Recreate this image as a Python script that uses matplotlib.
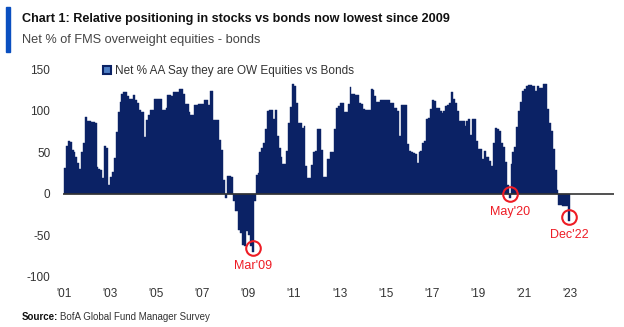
import matplotlib
matplotlib.use("Agg")
import numpy as np
import matplotlib.pyplot as plt
from matplotlib import font_manager
from matplotlib.patches import Rectangle

# monthly net % of fund managers overweight equities vs bonds, Jan 2001 .. Dec 2022
first_year = 2001
net_ow_pct = [
    31, 58, 64, 63, 53, 50, 45, 37, 30, 51, 62, 93,          # 2001
    88, 88, 87, 87, 86, 32, 30, 29, 19, 58, 56, 11,          # 2002
    21, 27, 43, 75, 99, 111, 120, 123, 123, 118, 114, 114,   # 2003
    119, 113, 110, 101, 99, 99, 69, 89, 95, 101, 101, 115,   # 2004
    115, 115, 115, 101, 101, 103, 119, 119, 118, 123, 123, 123,  # 2005
    126, 126, 121, 109, 109, 99, 95, 95, 107, 107, 109, 109,  # 2006
    109, 113, 113, 107, 124, 124, 89, 89, 89, 65, 53, 17,    # 2007
    -5, 22, 22, 21, -9, -21, -21, -43, -47, -62, -63, -45,   # 2008
    -50, -63, -70, -8, 23, 25, 50, 55, 62, 78, 100, 101,     # 2009
    101, 90, 101, 70, 55, 45, 36, 36, 52, 86, 105, 132,      # 2010
    130, 110, 85, 85, 80, 82, 34, 19, 19, 35, 50, 52,        # 2011
    78, 78, 53, 21, 21, 42, 42, 50, 50, 78, 104, 106,        # 2012
    110, 110, 99, 99, 109, 129, 121, 121, 119, 119, 110, 109,  # 2013
    102, 101, 101, 101, 126, 125, 118, 111, 111, 113, 113, 113,  # 2014
    113, 113, 110, 110, 104, 104, 100, 70, 107, 107, 107, 60,  # 2015
    52, 50, 49, 48, 37, 50, 52, 62, 64, 90, 92, 102,         # 2016
    113, 112, 104, 103, 100, 98, 100, 106, 107, 110, 123, 115,  # 2017
    110, 100, 88, 88, 88, 82, 88, 90, 71, 90, 90, 64,        # 2018
    54, 54, 42, 52, 45, 44, 40, 34, 62, 80, 78, 76,          # 2019
    62, 57, 38, 11, -5, 36, 50, 57, 81, 100, 111, 124,       # 2020
    127, 130, 131, 131, 130, 130, 124, 130, 128, 128, 132, 132,  # 2021
    102, 85, 76, 54, 29, 5, -13, -13, -14, -15, -15, -33,    # 2022
]
tick_years = list(range(2001, 2024, 2))
tick_labels = ["'%02d" % (y % 100) for y in tick_years]
y_ticks = [-100, -50, 0, 50, 100, 150]

callout_labels = ["Mar'09", "May'20", "Dec'22"]
callout_dates = [(2009, 3), (2020, 5), (2022, 12)]

navy = "#0b2265"
red = "#ee1c25"
grey_txt = "#333333"

names = {f.name for f in font_manager.fontManager.ttflist}
narrow = "Liberation Sans Narrow" if "Liberation Sans Narrow" in names else "Liberation Sans"
plt.rcParams["font.family"] = ["Liberation Sans", "DejaVu Sans"]
plt.rcParams["axes.unicode_minus"] = False

fig = plt.figure(figsize=(6.24, 3.27), dpi=100)
ax = fig.add_axes([0.1007, 0.153, 0.8827, 0.6345])

x = first_year + np.arange(len(net_ow_pct)) / 12
ax.bar(x, net_ow_pct, width=1 / 12, align="edge", color=navy, edgecolor=navy,
       linewidth=0.3, label="Net % AA Say they are OW Equities vs Bonds", zorder=2)
ax.axhline(0, color="#333333", lw=1.2, zorder=3)

for lab, (yr, mo) in zip(callout_labels, callout_dates):
    i = (yr - first_year) * 12 + mo - 1
    xc = x[i] + 1 / 24
    yc = net_ow_pct[i] + 5
    ax.plot(xc, yc, "o", ms=10.5, mfc="none", mec=red, mew=1.5, zorder=4)
    ax.annotate(lab, (xc, yc), xytext=(0, -13), textcoords="offset points",
                ha="center", va="center", color=red, fontsize=9)

ax.set_xlim(2000.95, 2024.9)
ax.set_ylim(-100, 150)
ax.set_xticks(tick_years)
ax.set_xticklabels(tick_labels)
ax.set_yticks(y_ticks)
for s in ax.spines.values():
    s.set_visible(False)
ax.tick_params(length=0, labelsize=8.5, colors=grey_txt)
ax.tick_params(axis="y", pad=9)
ax.tick_params(axis="x", pad=8)

leg = ax.legend(loc="upper left", bbox_to_anchor=(0.073, 1.02), frameon=False,
                fontsize=8.5, handlelength=0.7, handleheight=0.7, handletextpad=0.3,
                borderpad=0, borderaxespad=0, labelcolor=grey_txt)
for h in leg.legend_handles:
    h.set_facecolor("#4f7fc4")
    h.set_edgecolor(navy)
    h.set_linewidth(1.5)

# header block
fig.patches.append(Rectangle((6 / 624, 1 - 52 / 327), 4 / 624, 45 / 327,
                             transform=fig.transFigure, color="#0a4fc0"))
fig.text(22 / 624, 1 - 19 / 327,
         "Chart 1: Relative positioning in stocks vs bonds now lowest since 2009",
         fontsize=9.1, weight="bold", family=narrow, color="#111111", va="center")
fig.text(22 / 624, 1 - 40 / 327, "Net % of FMS overweight equities - bonds",
         fontsize=9.2, family=narrow, color="#444444", va="center")
fig.text(22 / 624, 1 - 317 / 327, "Source:", fontsize=7, weight="bold",
         family=narrow, color="#111111", va="center")
fig.text(60 / 624, 1 - 317 / 327, "BofA Global Fund Manager Survey", fontsize=7,
         family=narrow, color="#333333", va="center")

fig.savefig("out.png", dpi=100)
